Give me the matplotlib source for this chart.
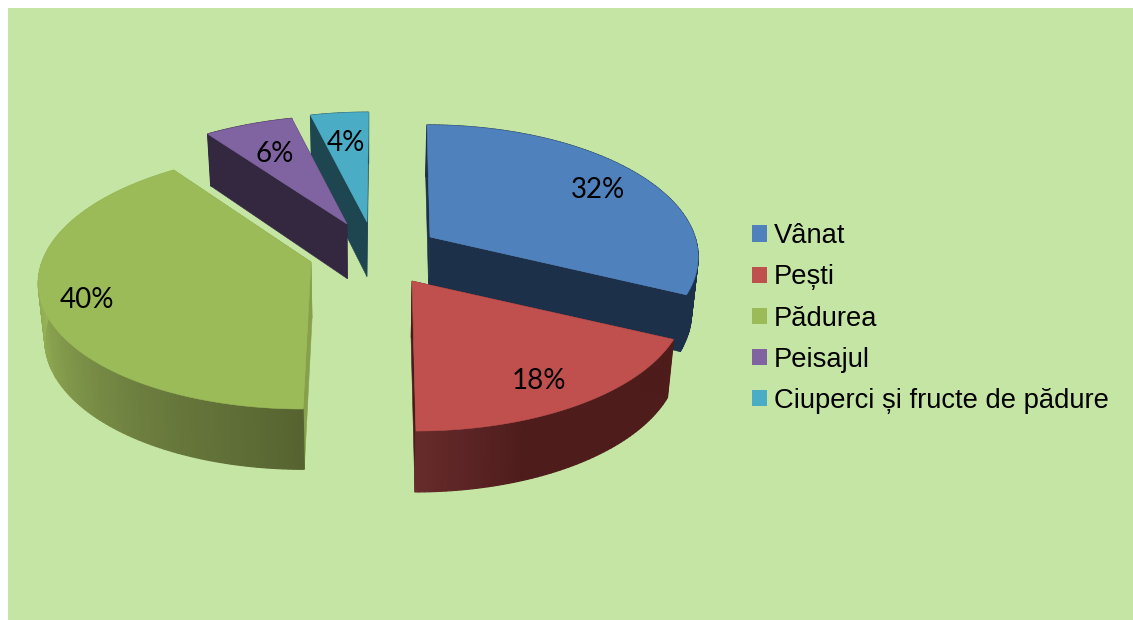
import numpy as np
import matplotlib
matplotlib.use("Agg")
import matplotlib.pyplot as plt
from matplotlib.patches import Polygon, Rectangle, Patch
from matplotlib.colors import to_rgb

categories = ["Vânat", "Pești", "Pădurea", "Peisajul", "Ciuperci și fructe de pădure"]
values = [32, 18, 40, 6, 4]

top_colors = ["#4F81BD", "#C0504D", "#9BBB59", "#8064A2", "#4BACC6"]
face_colors = ["#1C3049", "#4A1A1A", "#86A04C", "#33283F", "#1D4650"]
wall_stops = [
    [(0, "#1C3049"), (360, "#1C3049")],
    [(0, "#4F1C1C"), (160, "#4F1C1C"), (180, "#672B2B")],
    [(180, "#566330"), (215, "#6E8040"), (250, "#8CA650"), (275, "#99B758"), (360, "#99B758")],
    [(0, "#33283F"), (360, "#33283F")],
    [(0, "#1D4650"), (360, "#1D4650")],
]
apex_px = [(430, 237), (412, 281), (311, 262), (347, 224), (367, 222)]
scale_xy = [(1.0, 0.99), (1.02, 1.0), (1.015, 0.98), (1.02, 0.96), (1.0, 0.97)]
vanish_x = [405, 388, 360, 380, 380]
label_px = [(598, 190), (539, 381), (87, 300), (275, 154), (346, 143)]
draw_order = [4, 3, 2, 0, 1]

RX, RY, K = 265.0, 129.0, 0.14
BG = "#C5E5A5"

fig = plt.figure(figsize=(11.33, 6.2), dpi=100, facecolor="white")
ax = fig.add_axes([0, 0, 1, 1])
ax.set_xlim(0, 1133)
ax.set_ylim(620, 0)
ax.axis("off")
ax.add_patch(Rectangle((8, 8), 1125, 612, facecolor=BG, edgecolor="none", zorder=0))


def rim(i, deg):
    apex, sc = apex_px[i], scale_xy[i]
    t = np.radians(deg)
    u, v = np.sin(t), -np.cos(t)
    s = 1.0 / (1.0 - K * v)
    x = apex[0] + sc[0] * RX * u * s + (apex[0] - vanish_x[i]) * (s - 1)
    y = apex[1] + sc[1] * RY * v * s
    return np.column_stack([x, y])


def lower(pts):
    pts = np.atleast_2d(pts)
    return np.column_stack([365 + (pts[:, 0] - 365) * 0.98, pts[:, 1] * 1.03 + 48])


def color_at(stops, deg):
    ts = [a for a, _ in stops]
    cs = np.array([to_rgb(c) for _, c in stops])
    return tuple(np.interp(deg, ts, cs[:, i]) for i in range(3))


edges = np.concatenate([[0], np.cumsum(values)]) / np.sum(values) * 360.0
z = 1
for i in draw_order:
    t0, t1 = edges[i], edges[i + 1]
    A = np.array([apex_px[i]], dtype=float)
    # cut faces
    for t in (t0, t1):
        P = rim(i, np.array([t]))
        quad = np.vstack([A, P, lower(P), lower(A)])
        ax.add_patch(Polygon(quad, closed=True, facecolor=face_colors[i], edgecolor=face_colors[i], lw=0.4, zorder=z))
    z += 1
    # outer wall strips
    ts = np.arange(t0, t1 + 1.0, 1.0)
    ts[-1] = t1
    for a, b in zip(ts[:-1], ts[1:]):
        arc = rim(i, np.array([a, b]))
        strip = np.vstack([arc, lower(arc)[::-1]])
        col = color_at(wall_stops[i], 0.5 * (a + b))
        ax.add_patch(Polygon(strip, closed=True, facecolor=col, edgecolor=col, lw=0.9, zorder=z))
    z += 1
    # top surface
    arc = rim(i, np.linspace(t0, t1, 120))
    ax.add_patch(Polygon(np.vstack([A, arc]), closed=True, facecolor=top_colors[i], edgecolor=top_colors[i], lw=0.4, zorder=z))
    z += 1

for v, (x, y) in zip(values, label_px):
    ax.text(x, y, f"{v}%", ha="center", va="center", fontsize=20, family="Lato", color="black", zorder=100)

handles = [Patch(facecolor=c, edgecolor="none") for c in top_colors]
leg = ax.legend(
    handles, categories, loc="center left", bbox_to_anchor=(752, 318.5), bbox_transform=ax.transData,
    frameon=False, borderpad=0, borderaxespad=0,
    prop={"family": "Liberation Sans", "size": 19.7},
    handlelength=0.53, handleheight=0.53, handletextpad=0.26, labelspacing=0.555,
)
leg.set_zorder(100)

fig.savefig("out.png", dpi=100, facecolor="white")
